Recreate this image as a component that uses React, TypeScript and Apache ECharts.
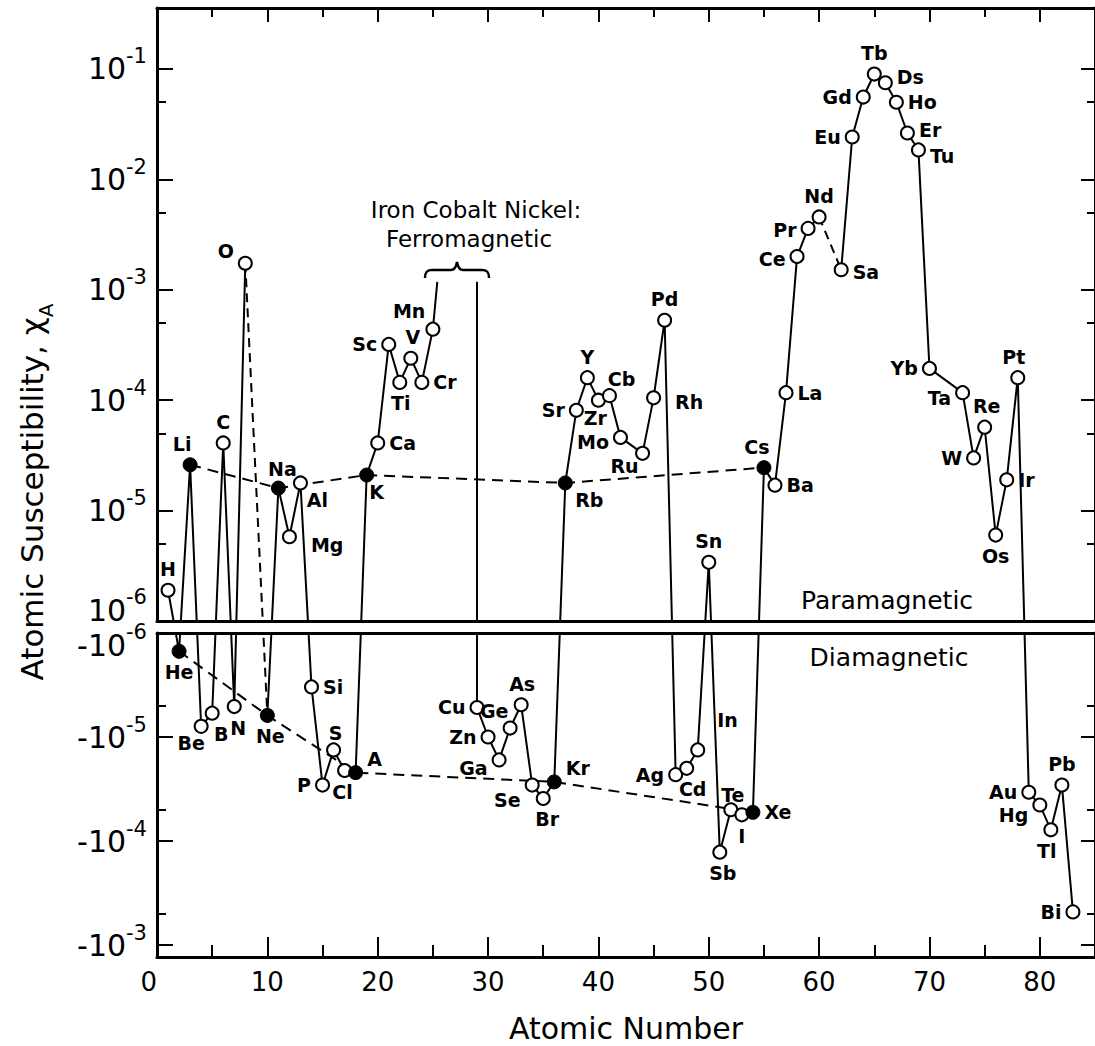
import React, { useEffect, useRef } from 'react';
import * as echarts from 'echarts';

// ---------------- data ----------------
const symbols = ['H','He','Li','Be','B','C','N','O','Ne','Na','Mg','Al','Si','P','S','Cl','A','K','Ca','Sc','Ti','V','Cr','Mn','Cu','Zn','Ga','Ge','As','Se','Br','Kr','Rb','Sr','Y','Zr','Cb','Mo','Ru','Rh','Pd','Ag','Cd','In','Sn','Sb','Te','I','Xe','Cs','Ba','La','Ce','Pr','Nd','Sa','Eu','Gd','Tb','Ds','Ho','Er','Tu','Yb','Ta','W','Re','Os','Ir','Pt','Au','Hg','Tl','Pb','Bi'];
const atomicNumbers = [1,2,3,4,5,6,7,8,10,11,12,13,14,15,16,17,18,19,20,21,22,23,24,25,29,30,31,32,33,34,35,36,37,38,39,40,41,42,44,45,46,47,48,49,50,51,52,53,54,55,56,57,58,59,60,62,63,64,65,66,67,68,69,70,73,74,75,76,77,78,79,80,81,82,83];
const susceptibility = [1.9e-6,-1.5e-6,2.6e-5,-7.9e-6,-5.9e-6,4.1e-5,-5.1e-6,1.74e-3,-6.2e-6,1.6e-5,5.8e-6,1.78e-5,-3.3e-6,-2.9e-5,-1.33e-5,-2.1e-5,-2.2e-5,2.1e-5,4.1e-5,3.2e-4,1.45e-4,2.4e-4,1.45e-4,4.4e-4,-5.2e-6,-1.0e-5,-1.66e-5,-8.2e-6,-4.9e-6,-2.9e-5,-3.9e-5,-2.7e-5,1.78e-5,8.1e-5,1.6e-4,1.0e-4,1.1e-4,4.6e-5,3.3e-5,1.05e-4,5.3e-4,-2.3e-5,-2.0e-5,-1.33e-5,3.4e-6,-1.28e-4,-5.0e-5,-5.6e-5,-5.3e-5,2.45e-5,1.7e-5,1.17e-4,2.0e-3,3.6e-3,4.57e-3,1.52e-3,2.42e-2,5.57e-2,9.0e-2,7.5e-2,5.0e-2,2.63e-2,1.85e-2,1.94e-4,1.17e-4,3.0e-5,5.7e-5,6.0e-6,1.9e-5,1.6e-4,-3.4e-5,-4.5e-5,-7.8e-5,-2.9e-5,-4.8e-4];

const alkaliMetals = ['Li','Na','K','Rb','Cs'];
const nobleGases = ['He','Ne','A','Kr','Xe'];
const dashedLinks = [['O','Ne'],['Nd','Sa']];
// ferromagnetic Fe, Co, Ni: the curve leaves the chart upward after Mn and comes back down at Cu
const ferroRiseZ = 25.4;
const ferroDropZ = 29;
const ferroTopValue = 1.18e-3;

const xMajorTicks = [0,10,20,30,40,50,60,70,80];
const xMinorTicks = [5,15,25,35,45,55,65,75];
const paraMajorTicks = [1e-6,1e-5,1e-4,1e-3,1e-2,1e-1];
const paraMinorTicks = [5e-6,5e-5,5e-4,5e-3,5e-2];
const diaMajorTicks = [1e-6,1e-5,1e-4,1e-3];
const diaMinorTicks = [5e-6,5e-5,5e-4];

// ---------------- layout / style ----------------
const FONT = 'DejaVu Sans';
const GRID_LEFT = 157, GRID_RIGHT = -2;
const TOP_GRID_TOP = 8, TOP_GRID_H = 613;
const BOT_GRID_TOP = 633, BOT_GRID_H = 324;
const X_MAX = 85;
const TOP_MIN_EXP = -6, TOP_MAX_EXP = -0.4475;
const BOT_MIN_EXP = -6, BOT_MAX_EXP = -2.885;
const PX_TOP = TOP_GRID_H / (TOP_MAX_EXP - TOP_MIN_EXP);
const PX_BOT = BOT_GRID_H / (BOT_MAX_EXP - BOT_MIN_EXP);
const GAP = BOT_GRID_TOP - (TOP_GRID_TOP + TOP_GRID_H);

const labelPlacement: Record<string, [string, number, number]> = {
  H:['top',0,0], He:['bottom',0,0], Li:['top',-8,0], Be:['bottom',-10,-4], B:['bottom',9,0], C:['top',0,0],
  N:['bottom',4,0], O:['left',0,-12], Ne:['bottom',3,0], Na:['top',4,2], Mg:['right',10,8], Al:['bottom',17,-4],
  Si:['right',0,0], P:['left',0,0], S:['top',2,4], Cl:['bottom',-2,0], A:['right',0,-14], K:['bottom',10,-4],
  Ca:['right',0,0], Sc:['left',0,0], Ti:['bottom',1,0], V:['top',2,0], Cr:['right',0,0], Mn:['left',4,-18],
  Cu:['left',0,0], Zn:['left',0,0], Ga:['left',0,8], Ge:['top',-16,4], As:['top',1,0], Se:['left',0,15],
  Br:['bottom',4,0], Kr:['right',0,-14], Rb:['bottom',24,-4], Sr:['left',0,0], Y:['top',0,0], Zr:['bottom',-3,-3],
  Cb:['top',12,4], Mo:['left',0,5], Ru:['bottom',-18,-8], Rh:['right',10,4], Pd:['top',0,0], Ag:['left',0,0],
  Cd:['bottom',6,0], In:['right',8,-30], Sn:['top',0,0], Sb:['bottom',3,0], Te:['top',2,6], I:['bottom',0,0],
  Xe:['right',0,0], Cs:['top',-7,0], Ba:['right',0,0], La:['right',0,0], Ce:['left',0,2], Pr:['left',0,2],
  Nd:['top',0,0], Sa:['right',0,2], Eu:['left',0,0], Gd:['left',0,0], Tb:['top',0,0], Ds:['right',0,-6],
  Ho:['right',0,0], Er:['right',0,-3], Tu:['right',0,6], Yb:['left',0,0], Ta:['left',0,5], Re:['top',2,0],
  W:['left',0,0], Os:['bottom',0,0], Ir:['right',0,0], Pt:['top',-4,0], Au:['left',0,0], Hg:['left',0,10],
  Tl:['bottom',-4,0], Pb:['top',0,0], Bi:['left',0,0],
};

const elements = symbols.map((s, i) => ({ s, z: atomicNumbers[i], v: susceptibility[i] }));
const bySymbol = (s: string) => elements.find((e) => e.s === s)!;

// value in the paramagnetic (upper) panel's log scale; diamagnetic values are continued below the panel
function toPara(v: number) {
  if (v > 0) return v;
  const below = GAP + (Math.log10(-v) - BOT_MIN_EXP) * PX_BOT;
  return Math.pow(10, TOP_MIN_EXP - below / PX_TOP);
}
// |value| in the diamagnetic (lower, inverted) panel's log scale; paramagnetic values continue above it
function toDia(v: number) {
  if (v < 0) return -v;
  const above = GAP + (Math.log10(v) - TOP_MIN_EXP) * PX_TOP;
  return Math.pow(10, BOT_MIN_EXP - above / PX_BOT);
}

function buildPath(map: (v: number) => number) {
  const pts: any[] = [];
  elements.forEach((e, i) => {
    if (i > 0) {
      const prev = elements[i - 1];
      if (dashedLinks.some(([a, b]) => a === prev.s && b === e.s)) pts.push([(prev.z + e.z) / 2, null]);
      if (prev.s === 'Mn') {
        pts.push([ferroRiseZ, map(ferroTopValue)]);
        pts.push([(ferroRiseZ + ferroDropZ) / 2, null]);
        pts.push([ferroDropZ, map(ferroTopValue)]);
      }
    }
    pts.push([e.z, map(e.v)]);
  });
  return pts;
}
function buildDashed(map: (v: number) => number) {
  const pts: any[] = [];
  dashedLinks.forEach(([a, b], k) => {
    const ea = bySymbol(a), eb = bySymbol(b);
    if (k > 0) pts.push([ea.z - 0.5, null]);
    pts.push([ea.z, map(ea.v)], [eb.z, map(eb.v)]);
  });
  return pts;
}
function pointItems(list: typeof elements, map: (v: number) => number) {
  return list.map((e) => {
    const p = labelPlacement[e.s] || ['top', 0, 0];
    return { name: e.s, value: [e.z, map(e.v)], label: { position: p[0], offset: [p[1], p[2]] } };
  });
}

const paraOpen = elements.filter((e) => e.v > 0 && !alkaliMetals.includes(e.s));
const paraFilled = elements.filter((e) => alkaliMetals.includes(e.s));
const diaOpen = elements.filter((e) => e.v < 0 && !nobleGases.includes(e.s));
const diaFilled = elements.filter((e) => nobleGases.includes(e.s));

const lineStyle = { color: '#000', width: 2, opacity: 1 };
const pointLabel = { show: true, formatter: '{b}', color: '#000', fontSize: 19, fontWeight: 'bold', fontFamily: FONT, distance: 4, opacity: 1 };
const openItem = { color: '#fff', borderColor: '#000', borderWidth: 2, opacity: 1 };
const filledItem = { color: '#000', borderColor: '#000', borderWidth: 1, opacity: 1 };

const xBase = (gridIndex: number, position: string) => ({
  type: 'value', gridIndex, position, min: 0, max: X_MAX,
  splitLine: { show: false }, axisLine: { show: false, onZero: false },
  axisTick: { show: false }, axisLabel: { show: false },
});
const yBase = (gridIndex: number, position: string, maxExp: number, inverse: boolean) => ({
  type: 'log', logBase: 10, gridIndex, position, inverse,
  min: Math.pow(10, -6), max: Math.pow(10, maxExp),
  splitLine: { show: false }, axisLine: { show: false, onZero: false },
  axisTick: { show: false }, axisLabel: { show: false },
});
const frame = { show: true, onZero: false, lineStyle: { color: '#000', width: 3 } };
const majorTick = (vals: number[], len: number) => ({ show: true, inside: true, length: len, customValues: vals, lineStyle: { color: '#000', width: 2 } });

const supRich = {
  b: { fontSize: 30, fontFamily: FONT, color: '#000', lineHeight: 80, verticalAlign: 'top', padding: [25, 0, 0, 0] },
  s: { fontSize: 21, fontFamily: FONT, color: '#000', lineHeight: 80, verticalAlign: 'top', padding: [17, 0, 0, 0] },
  b6: { fontSize: 30, fontFamily: FONT, color: '#000', lineHeight: 80, verticalAlign: 'top', padding: [14, 0, 0, 0] },
  s6: { fontSize: 21, fontFamily: FONT, color: '#000', lineHeight: 80, verticalAlign: 'top', padding: [5, 0, 0, 0] },
  bm6: { fontSize: 30, fontFamily: FONT, color: '#000', lineHeight: 80, verticalAlign: 'top', padding: [37, 0, 0, 0] },
  sm6: { fontSize: 21, fontFamily: FONT, color: '#000', lineHeight: 80, verticalAlign: 'top', padding: [28, 0, 0, 0] },
};
const expOf = (v: number) => Math.log10(v);
const paraLabel = (v: number) => {
  const e = expOf(v);
  if (Math.abs(e - Math.round(e)) > 0.01) return '';
  const n = Math.round(e);
  return n === -6 ? `{b6|10}{s6|${n}}` : `{b|10}{s|${n}}`;
};
const diaLabel = (v: number) => {
  const e = expOf(v);
  if (Math.abs(e - Math.round(e)) > 0.01) return '';
  const n = Math.round(e);
  return n === -6 ? `{bm6|-10}{sm6|${n}}` : `{b|-10}{s|${n}}`;
};

echarts.graphic.registerShape(
  'brace',
  echarts.graphic.extendPath('M0,16 C0,10 2,8 7,8 L26,8 C29,8 31,6 32,0 C33,6 35,8 38,8 L57,8 C62,8 64,10 64,16', {})
);

const option: any = {
  animation: false,
  backgroundColor: '#fff',
  textStyle: { fontFamily: FONT, color: '#000' },
  grid: [
    { left: GRID_LEFT, right: GRID_RIGHT, top: TOP_GRID_TOP, height: TOP_GRID_H },
    { left: GRID_LEFT, right: GRID_RIGHT, top: BOT_GRID_TOP, height: BOT_GRID_H },
  ],
  xAxis: [
    { ...xBase(0, 'top'), axisLine: frame, axisTick: majorTick(xMajorTicks, 14) },
    { ...xBase(0, 'top'), axisTick: majorTick(xMinorTicks, 9) },
    { ...xBase(0, 'bottom'), axisLine: frame },
    { ...xBase(1, 'top'), axisLine: frame },
    {
      ...xBase(1, 'bottom'), axisLine: frame, axisTick: majorTick(xMajorTicks, 20),
      axisLabel: { show: true, customValues: xMajorTicks, fontSize: 26, color: '#000', fontFamily: FONT, margin: 12, alignMinLabel: 'right' },
      name: 'Atomic Number', nameLocation: 'middle', nameGap: 56,
      nameTextStyle: { fontSize: 30, fontFamily: FONT, color: '#000' },
    },
    { ...xBase(1, 'bottom'), axisTick: majorTick(xMinorTicks, 12) },
  ],
  yAxis: [
    {
      ...yBase(0, 'left', TOP_MAX_EXP, false), axisLine: frame, axisTick: majorTick(paraMajorTicks, 16),
      axisLabel: { show: true, customValues: paraMajorTicks, formatter: paraLabel, rich: supRich, margin: 10 },
    },
    { ...yBase(0, 'left', TOP_MAX_EXP, false), axisTick: majorTick(paraMinorTicks, 9) },
    { ...yBase(0, 'right', TOP_MAX_EXP, false), axisLine: frame, axisTick: majorTick(paraMajorTicks, 14) },
    { ...yBase(0, 'right', TOP_MAX_EXP, false), axisTick: majorTick(paraMinorTicks, 8) },
    {
      ...yBase(1, 'left', BOT_MAX_EXP, true), axisLine: frame, axisTick: majorTick(diaMajorTicks, 16),
      axisLabel: { show: true, customValues: diaMajorTicks, formatter: diaLabel, rich: supRich, margin: 10 },
    },
    { ...yBase(1, 'left', BOT_MAX_EXP, true), axisTick: majorTick(diaMinorTicks, 9) },
    { ...yBase(1, 'right', BOT_MAX_EXP, true), axisLine: frame, axisTick: majorTick(diaMajorTicks, 14) },
    { ...yBase(1, 'right', BOT_MAX_EXP, true), axisTick: majorTick(diaMinorTicks, 8) },
  ],
  series: [
    // ---- paramagnetic panel ----
    { type: 'line', xAxisIndex: 0, yAxisIndex: 0, data: buildPath(toPara), showSymbol: false, lineStyle, z: 2, connectNulls: false },
    { type: 'line', xAxisIndex: 0, yAxisIndex: 0, data: buildDashed(toPara), showSymbol: false, lineStyle: { ...lineStyle, type: [9, 6] }, z: 2 },
    { type: 'line', xAxisIndex: 0, yAxisIndex: 0, data: paraFilled.map((e) => [e.z, e.v]), showSymbol: false, lineStyle: { ...lineStyle, type: [11, 7] }, z: 2 },
    {
      type: 'scatter', xAxisIndex: 0, yAxisIndex: 0, data: pointItems(paraOpen, toPara), symbol: 'circle', symbolSize: 13,
      itemStyle: openItem, label: pointLabel, z: 4,
    },
    {
      type: 'scatter', xAxisIndex: 0, yAxisIndex: 0, data: pointItems(paraFilled, toPara), symbol: 'circle', symbolSize: 14,
      itemStyle: filledItem, label: pointLabel, z: 4,
    },
    // ---- diamagnetic panel ----
    { type: 'line', xAxisIndex: 4, yAxisIndex: 4, data: buildPath(toDia), showSymbol: false, lineStyle, z: 2, connectNulls: false },
    { type: 'line', xAxisIndex: 4, yAxisIndex: 4, data: buildDashed(toDia), showSymbol: false, lineStyle: { ...lineStyle, type: [9, 6] }, z: 2 },
    { type: 'line', xAxisIndex: 4, yAxisIndex: 4, data: diaFilled.map((e) => [e.z, -e.v]), showSymbol: false, lineStyle: { ...lineStyle, type: [11, 7] }, z: 2 },
    {
      type: 'scatter', xAxisIndex: 4, yAxisIndex: 4, data: pointItems(diaOpen, toDia), symbol: 'circle', symbolSize: 13,
      itemStyle: openItem, label: pointLabel, z: 4,
    },
    {
      type: 'scatter', xAxisIndex: 4, yAxisIndex: 4, data: pointItems(diaFilled, toDia), symbol: 'circle', symbolSize: 14,
      itemStyle: filledItem, label: pointLabel, z: 4,
    },
  ],
  graphic: [
    {
      type: 'text', x: 32, y: 492, rotation: Math.PI / 2,
      style: {
        text: 'Atomic Susceptibility, χ{sub|A}', fontSize: 31, fontFamily: FONT, fill: '#000',
        align: 'center', verticalAlign: 'middle', lineHeight: 44,
        rich: { sub: { fontSize: 20, fontFamily: FONT, lineHeight: 44, verticalAlign: 'top', padding: [26, 0, 0, 0] } },
      },
    },
    { type: 'text', x: 476, y: 210, style: { text: 'Iron Cobalt Nickel:', fontSize: 23, fontFamily: FONT, fill: '#000', align: 'center', verticalAlign: 'middle' } },
    { type: 'text', x: 469, y: 239, style: { text: 'Ferromagnetic', fontSize: 23, fontFamily: FONT, fill: '#000', align: 'center', verticalAlign: 'middle' } },
    { type: 'brace', x: 425, y: 262, style: { stroke: '#000', fill: 'none', lineWidth: 2.5 } },
    { type: 'text', x: 887, y: 600, style: { text: 'Paramagnetic', fontSize: 25, fontFamily: FONT, fill: '#000', align: 'center', verticalAlign: 'middle' } },
    { type: 'text', x: 889, y: 657, style: { text: 'Diamagnetic', fontSize: 25, fontFamily: FONT, fill: '#000', align: 'center', verticalAlign: 'middle' } },
  ],
};

export default function App() {
  const ref = useRef<HTMLDivElement>(null);
  useEffect(() => {
    document.body.style.margin = '0';
    const chart = echarts.init(ref.current!, undefined, { renderer: 'svg' });
    chart.setOption(option);
    return () => chart.dispose();
  }, []);
  return <div ref={ref} style={{ width: 1095, height: 1046, background: '#fff' }} />;
}
